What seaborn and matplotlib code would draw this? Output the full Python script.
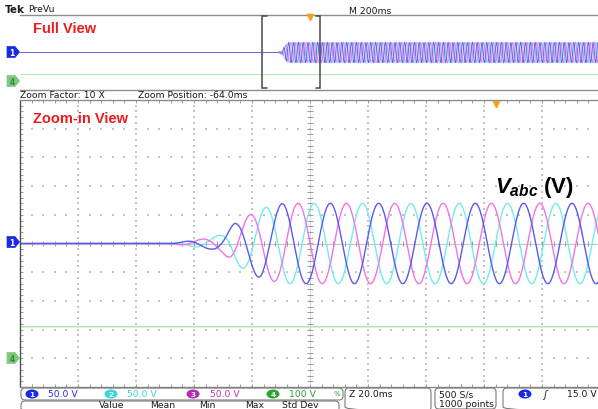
import numpy as np
import pandas as pd
import matplotlib
matplotlib.use("Agg")
import matplotlib.pyplot as plt
from matplotlib.patches import Polygon, Ellipse, FancyBboxPatch
from matplotlib.collections import LineCollection
import seaborn as sns

# ---- channel setup ----
channel_names = ["CH1", "CH2", "CH3", "CH4"]
channel_colors = ["#5a5aec", "#72ecec", "#f272e8", "#a2eca2"]
volts_per_div = [50.0, 50.0, 50.0, 100.0]
channel_offset_div = [0.0, 0.0, 0.0, -4.0]
scale_labels = ["50.0 V", "50.0 V", "50.0 V", "100 V"]
scale_label_colors = ["#2a2af0", "#3cd4d4", "#c038c0", "#28a828"]
badge_colors = ["#1a2ae8", "#3cd8d8", "#b02cb0", "#2aa82a"]
stat_headers = ["Value", "Mean", "Min", "Max", "Std Dev"]

# ---- three-phase output voltage ----
line_freq_hz = 60.0
phase_lag_deg = [0.0, 240.0, 120.0]      # CH1, CH2, CH3
ch1_crest_ms = -57.0                      # time of a CH1 crest
# start-up envelope: time from trigger (ms) and peak phase voltage (V)
envelope_t_ms = [-112, -105, -98, -94, -90, -87, -84, -81, -78, -73, 1000]
envelope_peak_v = [0, 5, 10, 17, 35, 44, 52, 61, 64, 70, 70]
# DC level on channel 4 (V)
ch4_level_v = 110.0

# ---- time bases (ms from trigger) ----
full_window = (-1000.0, 1000.0)
zoom_window = (-164.0, 36.0)
ms_per_div_zoom = 20.0
record_points = 1000

W, H = 598, 410


def traces(t):
    env = np.interp(t, envelope_t_ms, envelope_peak_v)
    parts = []
    for name, lag, vdiv, off in zip(channel_names[:3], phase_lag_deg,
                                    volts_per_div[:3], channel_offset_div[:3]):
        v = env * np.cos(2 * np.pi * line_freq_hz * (t - ch1_crest_ms) / 1000.0
                         - np.deg2rad(lag))
        parts.append(pd.DataFrame({"t": t, "div": v / vdiv + off, "ch": name}))
    dc = np.full_like(t, ch4_level_v / volts_per_div[3] + channel_offset_div[3])
    parts.append(pd.DataFrame({"t": t, "div": dc, "ch": "CH4"}))
    return pd.concat(parts, ignore_index=True)


sns.set_theme(style="white")
plt.rcParams["font.family"] = ["DejaVu Sans"]
plt.rcParams["mathtext.fontset"] = "custom"
plt.rcParams["mathtext.it"] = "Liberation Sans:italic:bold"
plt.rcParams["mathtext.rm"] = "Liberation Sans:bold"

fig = plt.figure(figsize=(W / 100, H / 100), dpi=100)
fig.patch.set_facecolor("white")

palette = dict(zip(channel_names, channel_colors))
draw_order = ["CH4", "CH2", "CH3", "CH1"]


def px_axes(x0, y0, x1, y1):
    return fig.add_axes([x0 / W, 1 - y1 / H, (x1 - x0) / W, (y1 - y0) / H])


# ---------- full record view ----------
ax_f = px_axes(20, 16, 600, 91)
t_full = np.linspace(full_window[0], full_window[1], record_points, endpoint=False)
sns.lineplot(data=traces(t_full), x="t", y="div", hue="ch", hue_order=draw_order,
             palette=palette, estimator=None, sort=False, legend=False,
             linewidth=0.6, ax=ax_f)
ax_f.set_xlim(full_window)
ax_f.set_ylim(-5, 5)
ax_f.axis("off")
ax_f.plot(full_window, [5, 5], color="#8c8c8c", lw=1.0, clip_on=False)
ax_f.plot(full_window, [-5, -5], color="#8c8c8c", lw=1.0, clip_on=False)
# zoom window bracket
for xe, d in [(zoom_window[0], 1), (zoom_window[1], -1)]:
    ax_f.plot([xe + d * 17, xe, xe, xe + d * 17], [4.85, 4.85, -4.75, -4.75],
              color="#4a4a4a", lw=1.1, solid_joinstyle="miter")
ax_f.scatter([0], [4.7], marker="v", s=20, color="#f5a020", zorder=6, clip_on=False)

# ---------- zoomed view ----------
ax_z = px_axes(20, 101, 600, 388)
x0 = zoom_window[0]
grid_x = x0 + ms_per_div_zoom * np.arange(11)
gx, gy = [], []
for k in range(1, 10):
    if k == 5:
        continue
    ys = np.arange(-5, 5.001, 0.2)
    gx += [grid_x[k]] * len(ys)
    gy += list(ys)
for j in range(-4, 5):
    if j == 0:
        continue
    xs = np.arange(x0, x0 + 200.01, 4.0)
    gx += list(xs)
    gy += [j] * len(xs)
ax_z.scatter(gx, gy, s=0.6, marker="s", color="#c4c4c4", linewidths=0, zorder=1)

xc = x0 + 100
ax_z.plot([xc, xc], [-5, 5], color="#d6d6d6", lw=0.7, zorder=1)
ax_z.plot(zoom_window, [0, 0], color="#c4c4c4", lw=0.8, zorder=1)
segs = []
for yv in np.arange(-5, 5.001, 0.2):
    segs.append([(xc - 0.9, yv), (xc + 0.9, yv)])
    segs.append([(x0, yv), (x0 + 1.0, yv)])
for xv in np.arange(x0, x0 + 200.01, 4.0):
    segs.append([(xv, -0.09), (xv, 0.09)])
    segs.append([(xv, 5), (xv, 4.88)])
    segs.append([(xv, -5), (xv, -4.88)])
ax_z.add_collection(LineCollection(segs, colors="#9a9a9a", linewidths=0.7, zorder=2))

t_zoom = np.linspace(zoom_window[0], zoom_window[1], 4001)
sns.lineplot(data=traces(t_zoom), x="t", y="div", hue="ch", hue_order=draw_order,
             palette=palette, estimator=None, sort=False, legend=False,
             linewidth=1.0, ax=ax_z)
ax_z.set_xlim(zoom_window)
ax_z.set_ylim(-5, 5)
ax_z.axis("off")
ax_z.plot([x0, x0], [-5, 5], color="#505050", lw=1.0, clip_on=False, zorder=3)
ax_z.plot(zoom_window, [5, 5], color="#8c8c8c", lw=1.0, clip_on=False, zorder=3)
ax_z.plot(zoom_window, [-5, -5], color="#8c8c8c", lw=1.0, clip_on=False, zorder=3)
ax_z.scatter([0], [4.85], marker="v", s=20, color="#f5a020", zorder=6, clip_on=False)

# ---------- overlay for annotations (pixel coordinates) ----------
ov = fig.add_axes([0, 0, 1, 1], zorder=10)
ov.set_xlim(0, W)
ov.set_ylim(H, 0)
ov.axis("off")
ov.patch.set_alpha(0)


def level_marker(y, label, fc, tc):
    pts = [(7, y - 5.5), (15, y - 5.5), (19.5, y), (15, y + 5.5), (7, y + 5.5)]
    ov.add_patch(Polygon(pts, closed=True, fc=fc, ec=fc, lw=0.5,
                         joinstyle="round"))
    ov.text(12, y + 0.5, label, color=tc, fontsize=5.5, fontweight="bold",
            ha="center", va="center")


level_marker(53, "1", badge_colors[0], "white")
level_marker(82, "4", "#7cc87c", "#3a8a3a")
level_marker(243, "1", badge_colors[0], "white")
level_marker(359, "4", "#7cc87c", "#3a8a3a")

small = dict(fontsize=6.7, color="#1a1a1a", va="center")
ov.text(5, 10, "Tek", fontsize=7.5, fontweight="bold", color="#1a1a1a", va="center")
ov.text(28, 10, "PreVu", **small)
ov.text(349, 11, "M 200ms", **small)
ov.text(20, 96, "Zoom Factor: 10 X", **small)
ov.text(138, 96, "Zoom Position: -64.0ms", **small)

ov.text(33, 29, "Full View", fontsize=10.5, fontweight="bold", color="#ee1c1c",
        family="Liberation Sans", va="center")
ov.text(33, 119, "Zoom-in View", fontsize=10.5, fontweight="bold", color="#ee1c1c",
        family="Liberation Sans", va="center")
ov.text(495, 193, r"$V_{abc}$ (V)", fontsize=16, fontweight="bold",
        family="Liberation Sans", color="black", va="baseline")

# ---------- status bar ----------
def rbox(x, y, w, h):
    ov.add_patch(FancyBboxPatch((x, y), w, h,
                                boxstyle="round,pad=0,rounding_size=4",
                                fc="none", ec="#7a7a7a", lw=0.8))


rbox(21, 389, 322, 12)
rbox(21, 402, 318, 12)
rbox(345, 389, 86, 23)
rbox(435, 389, 61, 21)
rbox(503, 389, 100, 23)

badge_x = [32, 111, 193, 273]
label_x = [48, 127, 210, 289]
for i in range(4):
    ov.add_patch(Ellipse((badge_x[i], 395), 13, 9, fc=badge_colors[i], ec="none"))
    ov.text(badge_x[i], 395.4, str(i + 1), color="white", fontsize=5.3,
            fontweight="bold", ha="center", va="center")
    ov.text(label_x[i], 395, scale_labels[i], fontsize=6.7,
            color=scale_label_colors[i], va="center")
ov.text(337, 394, "%", fontsize=5, color="#28a828", ha="center", va="center")

stat_x = [112, 163, 207, 255, 300]
for sx, sh in zip(stat_x, stat_headers):
    ov.text(sx, 406, sh, fontsize=6.7, color="#1a1a1a", ha="center", va="center")

ov.text(349, 395, "Z 20.0ms", **small)
ov.text(439, 395, "500 S/s", **small)
ov.text(439, 405, "1000 points", **small)
ov.add_patch(Ellipse((525, 395), 13, 9, fc=badge_colors[0], ec="none"))
ov.text(525, 395.4, "1", color="white", fontsize=5.3, fontweight="bold",
        ha="center", va="center")
ov.text(545, 395, "ʃ", fontsize=7, color="#1a1a1a", ha="center", va="center",
        style="italic")
ov.text(567, 395, "15.0 V", **small)

fig.savefig("out.png", dpi=100, facecolor="white")
